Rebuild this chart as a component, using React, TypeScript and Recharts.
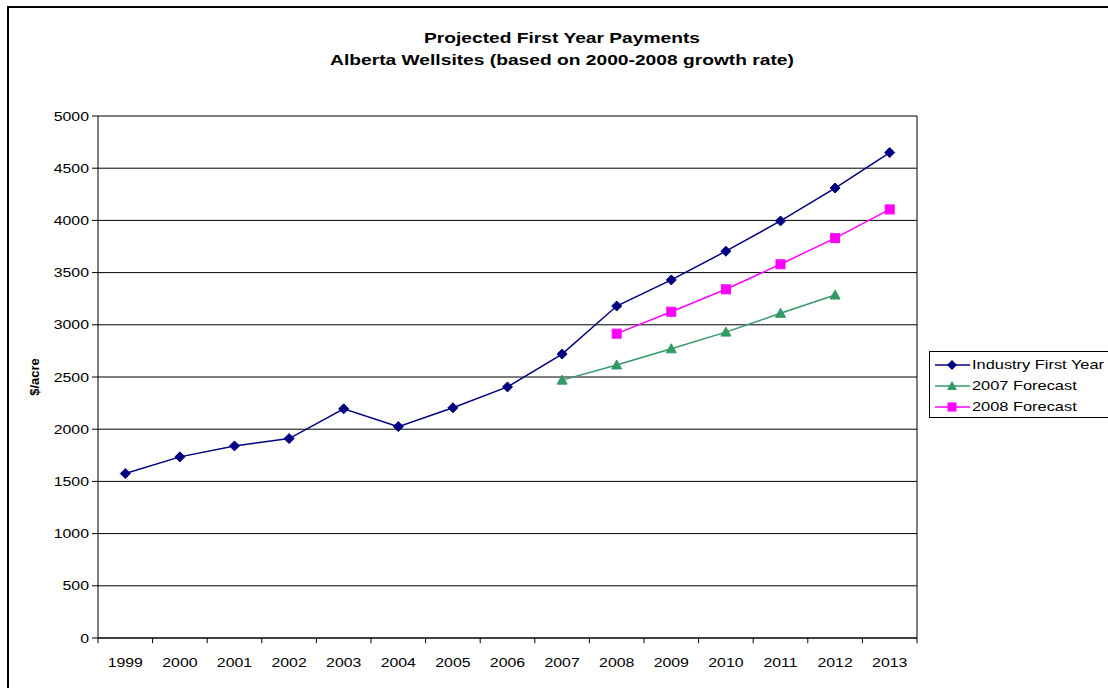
import React from 'react';
import { LineChart, Line, XAxis, YAxis, CartesianGrid, ReferenceLine } from 'recharts';

const years = [1999, 2000, 2001, 2002, 2003, 2004, 2005, 2006, 2007, 2008, 2009, 2010, 2011, 2012, 2013];
const industry = [1575, 1735, 1840, 1910, 2195, 2025, 2205, 2405, 2720, 3180, 3430, 3705, 3995, 4310, 4650];
const forecast2007 = [null, null, null, null, null, null, null, null, 2470, 2615, 2770, 2930, 3110, 3285, null];
const forecast2008 = [null, null, null, null, null, null, null, null, null, 2915, 3125, 3340, 3580, 3830, 4105];
const yTicks = [0, 500, 1000, 1500, 2000, 2500, 3000, 3500, 4000, 4500, 5000];
const boundaryTicks = [1998.5, 1999.5, 2000.5, 2001.5, 2002.5, 2003.5, 2004.5, 2005.5, 2006.5, 2007.5, 2008.5, 2009.5, 2010.5, 2011.5, 2012.5, 2013.5];

const data = years.map((y, i) => ({
  year: y,
  industry: industry[i],
  f2007: forecast2007[i],
  f2008: forecast2008[i],
}));

const FONT = '"Liberation Sans", Arial, sans-serif';
const NAVY = '#000080';
const GREEN = '#339966';
const MAGENTA = '#FF00FF';
const STRETCH = 1.22;

const Diamond = (props: any) => {
  const { cx, cy } = props;
  if (cx == null || cy == null || props.value == null) return null;
  return <path d={`M${cx},${cy - 5} L${cx + 5},${cy} L${cx},${cy + 5} L${cx - 5},${cy} Z`} fill={NAVY} stroke={NAVY} />;
};
const Triangle = (props: any) => {
  const { cx, cy } = props;
  if (cx == null || cy == null || props.value == null) return null;
  return <path d={`M${cx},${cy - 5} L${cx + 5},${cy + 4} L${cx - 5},${cy + 4} Z`} fill={GREEN} stroke={GREEN} />;
};
const Square = (props: any) => {
  const { cx, cy } = props;
  if (cx == null || cy == null || props.value == null) return null;
  return <rect x={cx - 4.5} y={cy - 4.5} width={9} height={9} fill={MAGENTA} stroke={MAGENTA} />;
};

const XTick = (props: any) => {
  const { x, y, payload } = props;
  return (
    <g transform={`translate(${x},${y}) scale(${STRETCH},1)`}>
      <text x={0} y={0} dy="0.71em" textAnchor="middle" fontFamily={FONT} fontSize={13} fill="#000">{payload.value}</text>
    </g>
  );
};
const YTick = (props: any) => {
  const { x, y, payload } = props;
  return (
    <g transform={`translate(${x},${y}) scale(${STRETCH},1)`}>
      <text x={0} y={0} dy="0.355em" textAnchor="end" fontFamily={FONT} fontSize={13} fill="#000">{payload.value}</text>
    </g>
  );
};

const legendItems = [
  { label: 'Industry First Year', color: NAVY, shape: 'diamond' },
  { label: '2007 Forecast', color: GREEN, shape: 'triangle' },
  { label: '2008 Forecast', color: MAGENTA, shape: 'square' },
];

const LegendBox = () => (
  <div style={{ position: 'absolute', left: 929, top: 351, border: '1px solid #000', background: '#fff', width: 190, height: 67, boxSizing: 'border-box', paddingTop: 2, fontFamily: FONT, fontSize: 13 }}>
    {legendItems.map((it) => (
      <div key={it.label} style={{ display: 'flex', alignItems: 'center', height: 21 }}>
        <svg width={38} height={12} style={{ marginLeft: 4 }}>
          <line x1={1} y1={6} x2={36} y2={6} stroke={it.color} strokeWidth={1.5} />
          {it.shape === 'diamond' && <path d="M18,1 L23,6 L18,11 L13,6 Z" fill={it.color} />}
          {it.shape === 'triangle' && <path d="M18,1 L23,10 L13,10 Z" fill={it.color} />}
          {it.shape === 'square' && <rect x={13.5} y={1.5} width={9} height={9} fill={it.color} />}
        </svg>
        <span style={{ color: '#000', display: 'inline-block', transform: `scaleX(${STRETCH + 0.04})`, transformOrigin: 'left center', whiteSpace: 'nowrap' }}>{it.label}</span>
      </div>
    ))}
  </div>
);

export default function App() {
  return (
    <div style={{ position: 'absolute', left: 0, top: 0, width: 1108, height: 688, background: '#fff', overflow: 'hidden' }}>
      <div style={{ position: 'absolute', left: 7, top: 6, width: 1120, height: 700, borderLeft: '2px solid #000', borderTop: '2px solid #000' }} />
      <div style={{ position: 'absolute', left: 0, width: 1124, top: 27, textAlign: 'center', fontFamily: FONT, fontWeight: 'bold', fontSize: 15, lineHeight: '22px', color: '#000', transform: 'scaleX(1.28)', transformOrigin: '562px 0' }}>
        <div>Projected First Year Payments</div>
        <div>Alberta Wellsites (based on 2000-2008 growth rate)</div>
      </div>
      <div style={{ position: 'absolute', left: 0, top: 0 }}>
        <LineChart width={1108} height={688} data={data} margin={{ top: 116, right: 191, bottom: 20, left: 38 }}>
          <CartesianGrid xAxisId="x" yAxisId="y" vertical={false} stroke="#000" strokeWidth={1} />
          <XAxis
            xAxisId="x"
            dataKey="year"
            type="number"
            domain={[1998.5, 2013.5]}
            ticks={years}
            tickLine={false}
            stroke="#000"
            tick={<XTick />}
            tickMargin={14}
            height={30}
          />
          <YAxis
            yAxisId="y"
            domain={[0, 5000]}
            ticks={yTicks}
            tickSize={6}
            tickMargin={3}
            stroke="#000"
            width={60}
            tick={<YTick />}
            label={{ value: '$/acre', angle: -90, position: 'insideLeft', offset: -4, style: { fontFamily: FONT, fontWeight: 'bold', fontSize: 13, fill: '#000', textAnchor: 'middle' } }}
          />
          {boundaryTicks.map((b) => (
            <ReferenceLine
              key={b}
              xAxisId="x"
              yAxisId="y"
              ifOverflow="visible"
              segment={[{ x: b, y: 0 }, { x: b, y: -50 }]}
              stroke="#000"
            />
          ))}
          <ReferenceLine xAxisId="x" yAxisId="y" x={2013.5} stroke="#000" />
          <Line xAxisId="x" yAxisId="y" type="linear" dataKey="industry" stroke={NAVY} strokeWidth={1.5} dot={<Diamond />} activeDot={false} isAnimationActive={false} />
          <Line xAxisId="x" yAxisId="y" type="linear" dataKey="f2007" stroke={GREEN} strokeWidth={1.5} dot={<Triangle />} activeDot={false} isAnimationActive={false} />
          <Line xAxisId="x" yAxisId="y" type="linear" dataKey="f2008" stroke={MAGENTA} strokeWidth={1.5} dot={<Square />} activeDot={false} isAnimationActive={false} />
        </LineChart>
      </div>
      <LegendBox />
    </div>
  );
}
